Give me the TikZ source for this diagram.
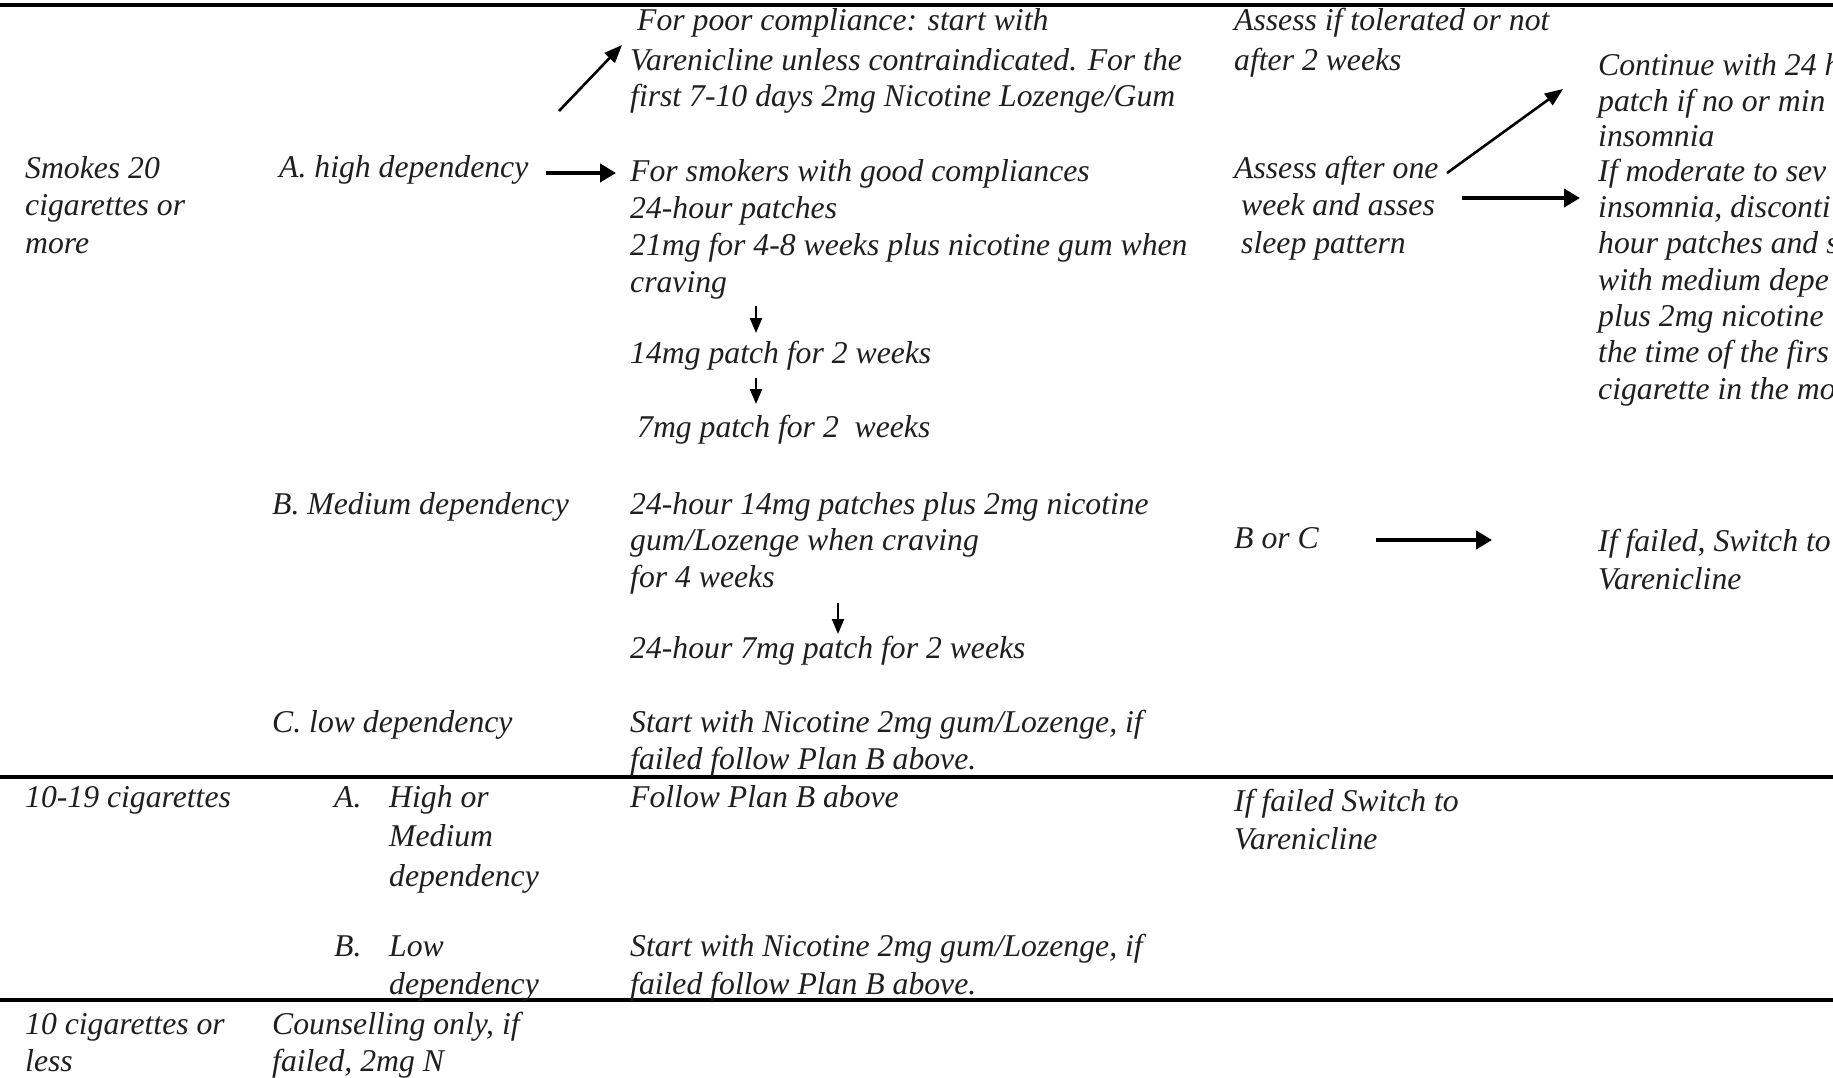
\documentclass[tikz,border=0pt]{standalone}
\usepackage{fontspec}
\setmainfont{Liberation Serif}
\usetikzlibrary{arrows.meta}
\begin{document}
\begin{tikzpicture}[x=1pt,y=-1pt,
  txt/.style={anchor=base west, inner sep=0pt, align=left,
    font=\fontsize{31.7}{#1}\selectfont\itshape, text=black!88},
  txt/.default=36.5,
  rule/.style={line width=3.6pt, black},
  diag/.style={line width=2.6pt, -{Triangle[length=18pt,width=14pt]}},
  harr/.style={line width=4pt, -{Triangle[length=16pt,width=18pt]}},
  varr/.style={line width=2.2pt, -{Triangle[length=15pt,width=12pt]}}]
\useasboundingbox (0,0) rectangle (1833,1078);
\fill[white] (0,0) rectangle (1833,1078);

% rules
\coordinate (r1a) at (0,5);    \coordinate (r1b) at (1833,5);
\coordinate (r2a) at (0,777);  \coordinate (r2b) at (1833,777);
\coordinate (r3a) at (0,1000); \coordinate (r3b) at (1833,1000);
\draw[rule] (r1a) -- (r1b);
\draw[rule] (r2a) -- (r2b);
\draw[rule] (r3a) -- (r3b);

% column 1 (multi-line nodes are placed by the baseline of their last line)
\node[txt=37.5] (c1a) at (25,253) {Smokes 20\\cigarettes or\\more};
\node[txt] (c1b) at (25,807) {10-19 cigarettes};
\node[txt] (c1c) at (25,1071) {10 cigarettes or\\less};

% column 2
\node[txt] (c2a) at (279,178) {A. high dependency};
\node[txt] (c2b) at (272,514) {B. Medium dependency};
\node[txt] (c2c) at (272,732) {C. low dependency};
\node[txt] (c2dA) at (334,807) {A.};
\node[txt=39.5] (c2d) at (389,886) {High or\\Medium\\dependency};
\node[txt] (c2eB) at (334,956) {B.};
\node[txt=38] (c2e) at (389,994) {Low\\dependency};
\node[txt] (c2f) at (272,1071) {Counselling only, if\\failed, 2mg N};

% column 3
\node[txt] (p0) at (637,31) {For poor compliance: start with};
\node[txt=36] (p1) at (630,107) {Varenicline unless contraindicated. For the\\first 7-10 days 2mg Nicotine Lozenge/Gum};
\node[txt=36.7] (g1) at (630,292) {For smokers with good compliances\\24-hour patches\\21mg for 4-8 weeks plus nicotine gum when\\craving};
\node[txt] (g2) at (630,363) {14mg patch for 2 weeks};
\node[txt] (g3) at (637,437) {7mg patch for 2~ weeks};
\node[txt] (m1) at (630,587) {24-hour 14mg patches plus 2mg nicotine\\gum/Lozenge when craving\\for 4 weeks};
\node[txt] (m2) at (630,658) {24-hour 7mg patch for 2 weeks};
\node[txt=37] (l1) at (630,769) {Start with Nicotine 2mg gum/Lozenge, if\\failed follow Plan B above.};
\node[txt] (f1) at (630,807) {Follow Plan B above};
\node[txt=38] (f2) at (630,994) {Start with Nicotine 2mg gum/Lozenge, if\\failed follow Plan B above.};

% column 4
\node[txt=40] (a1) at (1234,71) {Assess if tolerated or not\\after 2 weeks};
\node[txt=37.5] (a2) at (1234,253) {Assess after one\\\hspace*{7pt}week and asses\\\hspace*{7pt}sleep pattern};
\node[txt] (a3) at (1234,548) {B or C};
\node[txt=38] (a4) at (1234,849) {If failed Switch to\\Varenicline};

% column 5
\node[txt=35.5] (e1) at (1598,147) {Continue with 24 h\\patch if no or min\\insomnia};
\node[txt=36.3] (e2) at (1598,399) {If moderate to sev\\insomnia, disconti\\hour patches and s\\with medium depe\\plus 2mg nicotine\\the time of the firs\\cigarette in the mo};
\node[txt=38] (e3) at (1598,589) {If failed, Switch to\\Varenicline};

% arrows
\coordinate (d1s) at (559,111); \coordinate (d1e) at (622,45);
\draw[diag] (d1s) -- (d1e);
\coordinate (h1s) at (546,173); \coordinate (h1e) at (616,173);
\draw[harr] (h1s) -- (h1e);
\coordinate (d2s) at (1447,173); \coordinate (d2e) at (1563,89);
\draw[diag] (d2s) -- (d2e);
\coordinate (h2s) at (1462,198); \coordinate (h2e) at (1580,198);
\draw[harr] (h2s) -- (h2e);
\coordinate (h3s) at (1376,540); \coordinate (h3e) at (1492,540);
\draw[harr] (h3s) -- (h3e);
\coordinate (v1s) at (756,306); \coordinate (v1e) at (756,333);
\draw[varr] (v1s) -- (v1e);
\coordinate (v2s) at (756,378); \coordinate (v2e) at (756,404);
\draw[varr] (v2s) -- (v2e);
\coordinate (v3s) at (838,603); \coordinate (v3e) at (838,634);
\draw[varr] (v3s) -- (v3e);
\end{tikzpicture}
\end{document}
